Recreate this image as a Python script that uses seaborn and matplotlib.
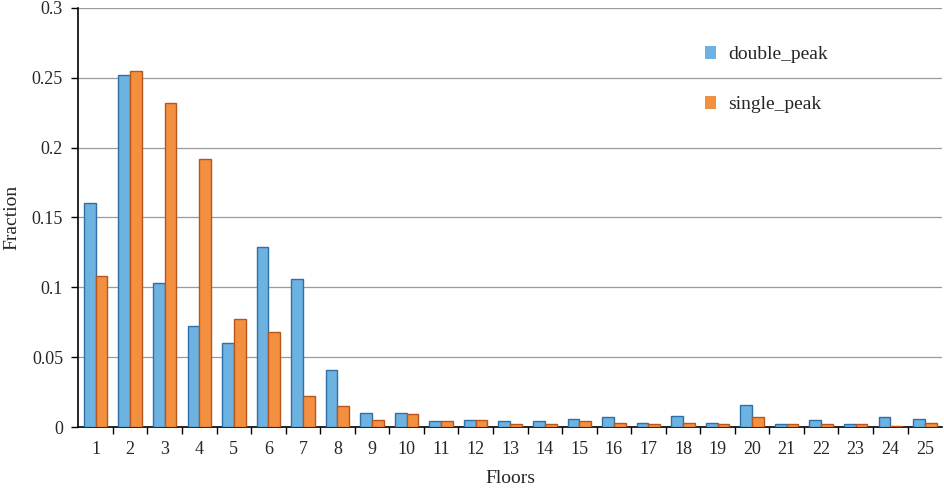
import matplotlib
matplotlib.use("Agg")
import matplotlib.pyplot as plt
import seaborn as sns
import pandas as pd
import numpy as np

floors = list(range(1, 26))
double_peak = [0.160, 0.252, 0.103, 0.072, 0.060, 0.129, 0.106, 0.041, 0.010, 0.010,
               0.004, 0.005, 0.004, 0.004, 0.006, 0.007, 0.003, 0.008, 0.003, 0.016,
               0.002, 0.005, 0.002, 0.007, 0.006]
single_peak = [0.108, 0.255, 0.232, 0.192, 0.077, 0.068, 0.022, 0.015, 0.005, 0.009,
               0.004, 0.005, 0.002, 0.002, 0.004, 0.003, 0.002, 0.003, 0.002, 0.007,
               0.002, 0.002, 0.002, 0.001, 0.003]
series_names = ["double_peak", "single_peak"]
y_ticks = [0, 0.05, 0.1, 0.15, 0.2, 0.25, 0.3]
y_tick_labels = ["0", "0.05", "0.1", "0.15", "0.2", "0.25", "0.3"]

df = pd.DataFrame({
    "Floors": [str(f) for f in floors] * 2,
    "Fraction": double_peak + single_peak,
    "series": [series_names[0]] * 25 + [series_names[1]] * 25,
})

sns.set_style("white")
plt.rcParams["font.family"] = ["Liberation Serif", "DejaVu Serif"]

fig = plt.figure(figsize=(9.44, 4.88), dpi=100)
ax = fig.add_axes([0.083, 0.125, 0.915, 0.859])

palette = {"double_peak": "#6DB3E2", "single_peak": "#F3903F"}
edges = {"double_peak": "#2F6FA8", "single_peak": "#B8551F"}
sns.barplot(data=df, x="Floors", y="Fraction", hue="series", palette=palette,
            width=0.68, gap=0, ax=ax, legend=False, saturation=1, zorder=3)

for container, name in zip(ax.containers, series_names):
    for bar in container:
        bar.set_edgecolor(edges[name])
        bar.set_linewidth(1.0)

ax.set_ylim(0, 0.3)
ax.set_xlim(-0.5, 24.5)
ax.set_yticks(y_ticks)
ax.set_yticklabels(y_tick_labels)
for y in y_ticks[1:]:
    ax.axhline(y, color="#9a9a9a", linewidth=0.9, zorder=1)

ax.tick_params(axis="y", which="major", length=5, width=1, direction="out",
               left=True, labelsize=13, pad=6, color="black")
ax.tick_params(axis="x", which="major", length=0, labelsize=13, pad=10)
ax.set_xticks(np.arange(0.5, 24.5, 1.0), minor=True)
ax.tick_params(axis="x", which="minor", length=5, width=1, direction="out",
               bottom=True, color="black")

for s in ["top", "right"]:
    ax.spines[s].set_visible(False)
for s in ["left", "bottom"]:
    ax.spines[s].set_color("black")
    ax.spines[s].set_linewidth(1.2)

ax.set_xlabel("Floors", fontsize=14, labelpad=9)
ax.set_ylabel("Fraction", fontsize=14, labelpad=8)

from matplotlib.patches import Patch
handles = [Patch(facecolor=palette[n], edgecolor="none") for n in series_names]
ax.legend(handles, series_names, loc="upper left", bbox_to_anchor=(0.705, 0.95),
          frameon=False, fontsize=14, handlelength=0.6, handleheight=0.6,
          labelspacing=1.7, handletextpad=0.6)

fig.savefig("out.png", dpi=100)
